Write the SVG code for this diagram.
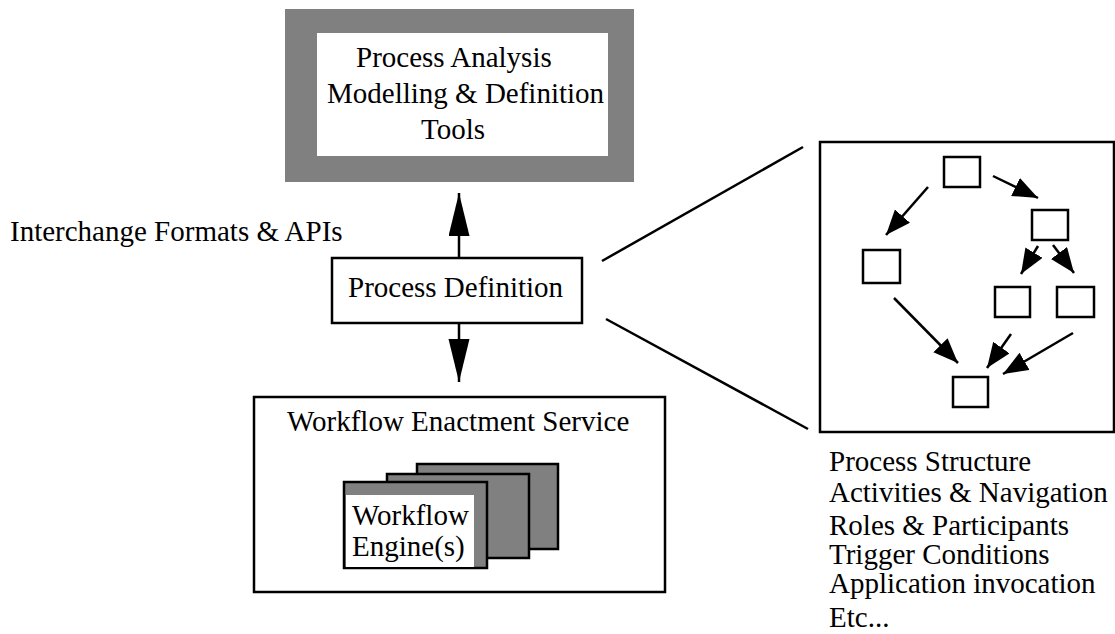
<svg xmlns="http://www.w3.org/2000/svg" width="1115" height="634" viewBox="0 0 1115 634">
<style>
  text { font-family: "Liberation Serif", "Times New Roman", serif; font-size: 29px; fill: #000; }
  .box { fill: #fff; stroke: #000; stroke-width: 2.5; }
  .card { fill: #808080; stroke: #000; stroke-width: 2.5; }
  .small { fill: #fff; stroke: #000; stroke-width: 2.5; }
  .conn { stroke: #000; stroke-width: 2.5; fill: none; }
  .big { marker-end: url(#bigHead); }
  .sm { marker-end: url(#smallHead); }
</style>
<defs>
  <marker id="bigHead" markerUnits="userSpaceOnUse" markerWidth="44" markerHeight="22" refX="43" refY="10.5" orient="auto">
    <path d="M0,0 L43,10.5 L0,21 Z" fill="#000"/>
  </marker>
  <marker id="smallHead" markerUnits="userSpaceOnUse" markerWidth="26" markerHeight="22" refX="25" refY="10" orient="auto">
    <path d="M0,0 L25,10 L0,20 Z" fill="#000"/>
  </marker>
</defs>
<rect width="1115" height="634" fill="#fff"/>

<g id="tools">
  <rect x="285" y="9" width="349" height="173" fill="#808080"/>
  <rect x="317" y="33" width="291" height="123" fill="#fff"/>
  <text x="356" y="67">Process Analysis</text>
  <text x="327" y="103">Modelling &amp; Definition</text>
  <text x="421" y="139">Tools</text>
</g>

<g id="interchange-label">
  <text x="10" y="241">Interchange Formats &amp; APIs</text>
</g>

<g id="process-definition">
  <rect class="box" x="332" y="258" width="250" height="65"/>
  <text x="348" y="297">Process Definition</text>
</g>

<g id="enactment-service">
  <rect class="box" x="254" y="397" width="411" height="195"/>
  <text x="287" y="431">Workflow Enactment Service</text>
  <g id="engines">
    <rect class="card" x="417" y="464" width="141" height="85"/>
    <rect class="card" x="387" y="474" width="142" height="84"/>
    <rect class="card" x="344" y="482" width="143" height="86"/>
    <rect x="346" y="495" width="128" height="72" fill="#fff"/>
    <text x="352" y="525">Workflow</text>
    <text x="352" y="556">Engine(s)</text>
  </g>
</g>

<g id="structure-panel">
  <rect class="box" x="820" y="142" width="294" height="290"/>
  <rect id="n-top" class="small" x="944" y="157" width="36" height="30"/>
  <rect id="n-right" class="small" x="1032" y="210" width="36" height="30"/>
  <rect id="n-left" class="small" x="863" y="250" width="37" height="33"/>
  <rect id="n-midl" class="small" x="995" y="287" width="35" height="30"/>
  <rect id="n-midr" class="small" x="1057" y="287" width="37" height="30"/>
  <rect id="n-bottom" class="small" x="953" y="377" width="35" height="30"/>
</g>

<g id="structure-list">
  <text x="829" y="471">Process Structure</text>
  <text x="829" y="502">Activities &amp; Navigation</text>
  <text x="829" y="535">Roles &amp; Participants</text>
  <text x="829" y="564">Trigger Conditions</text>
  <text x="829" y="593">Application invocation</text>
  <text x="829" y="627">Etc...</text>
</g>

<g id="connectors">
  <line class="conn big" x1="459" y1="258" x2="459" y2="193"/>
  <line class="conn big" x1="459" y1="323" x2="459" y2="382"/>
  <line class="conn" x1="602" y1="261" x2="803" y2="147"/>
  <line class="conn" x1="606" y1="319" x2="808" y2="429"/>
  <line class="conn sm" x1="928" y1="187" x2="886" y2="235"/>
  <line class="conn sm" x1="993" y1="176" x2="1038" y2="198"/>
  <line class="conn sm" x1="1038" y1="246" x2="1021" y2="274"/>
  <line class="conn sm" x1="1053" y1="245" x2="1074" y2="273"/>
  <line class="conn sm" x1="894" y1="298" x2="958" y2="363"/>
  <line class="conn sm" x1="1011" y1="334" x2="987" y2="368"/>
  <line class="conn sm" x1="1073" y1="333" x2="1003" y2="374"/>
</g>
</svg>
